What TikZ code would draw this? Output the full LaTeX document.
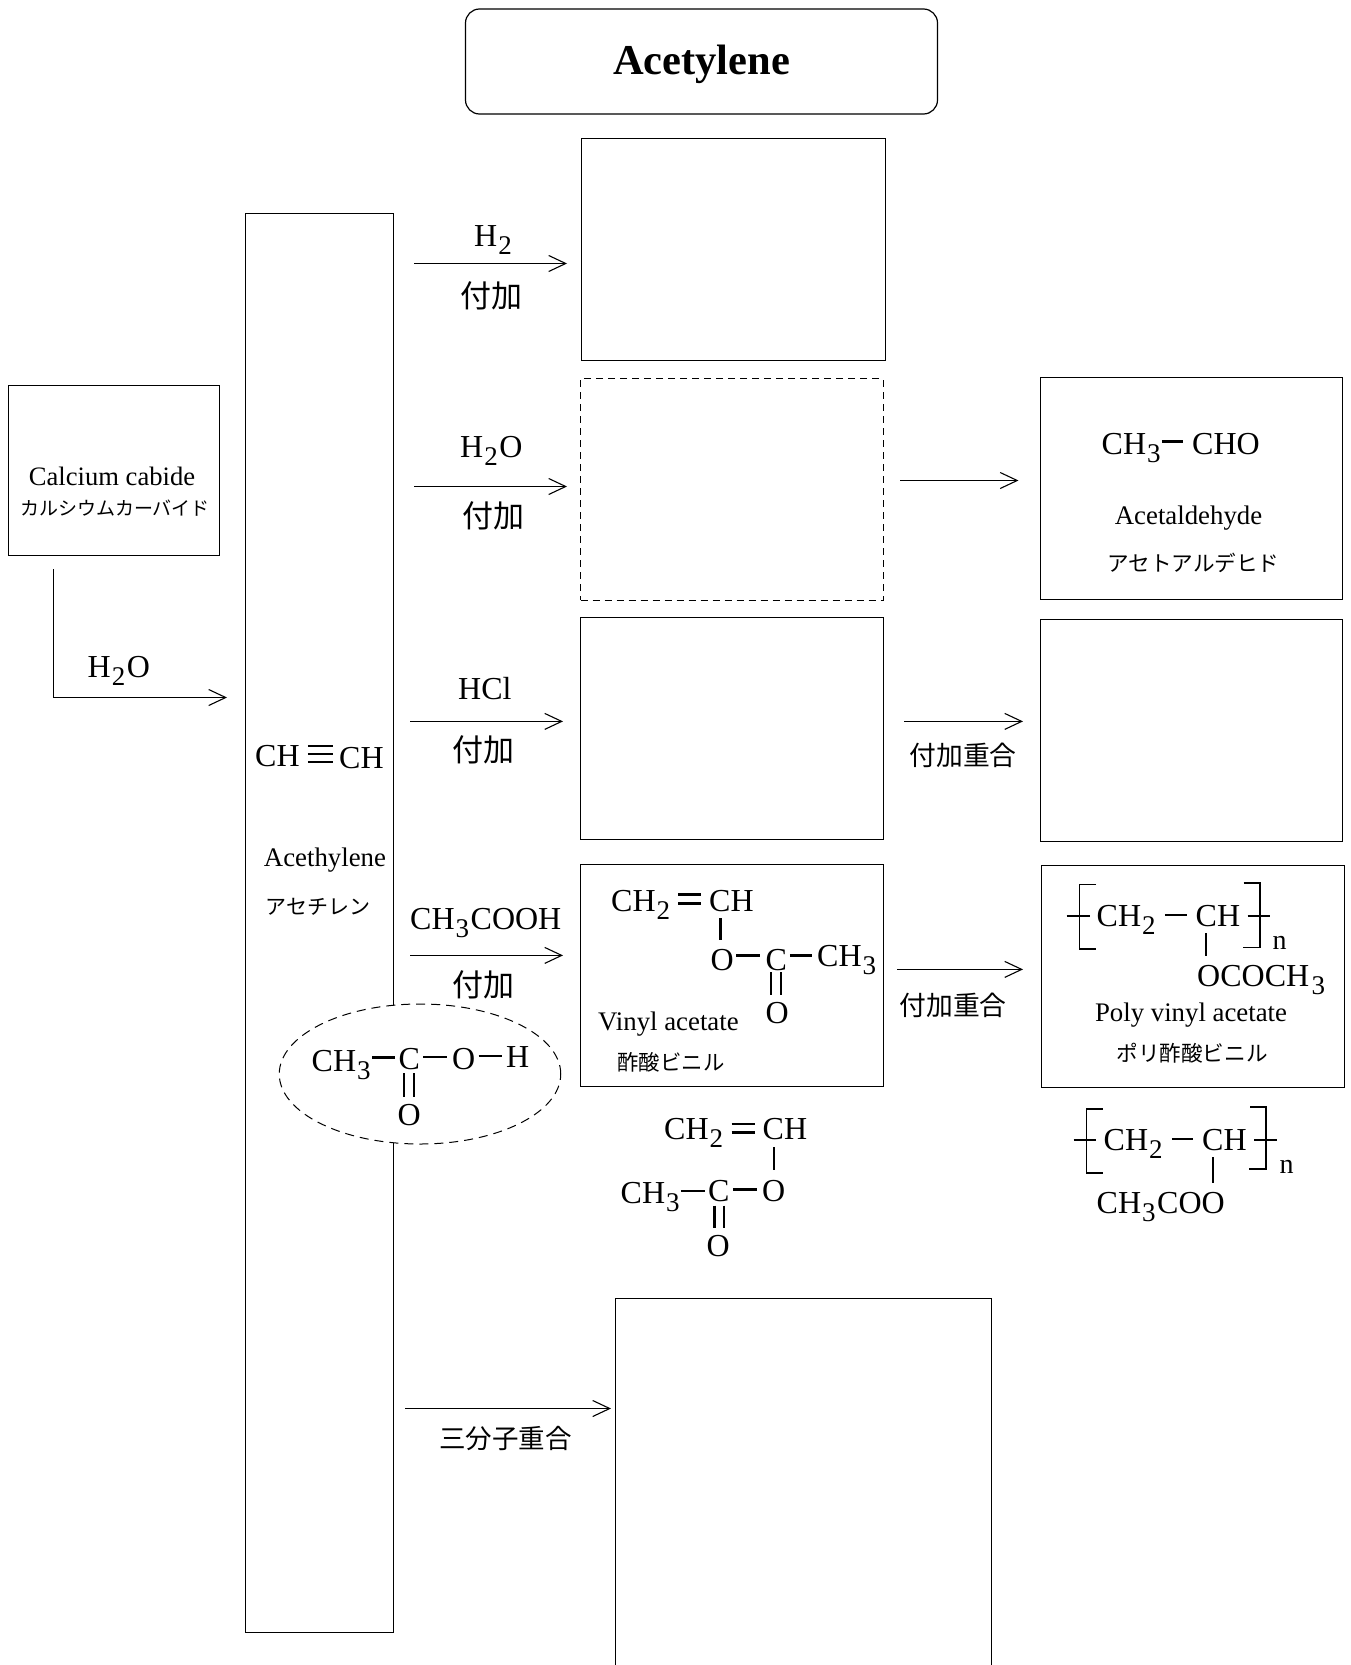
\documentclass[tikz,border=0pt]{standalone}
\usepackage{fontspec}
\setmainfont{Liberation Serif}
\newfontfamily\jafont{Noto Sans CJK JP}
\usetikzlibrary{arrows.meta,shapes.geometric}
\newcommand{\fz}[1]{\fontsize{#1}{#1}\selectfont}
\newcommand{\sbs}[1]{\hspace{1pt}\raisebox{-8pt}{\fz{27}#1}\hspace{1.5pt}}
\colorlet{ln}{black}
\tikzset{
  x=1pt,y=-1pt,
  box/.style={draw=ln,line width=1.2pt,inner sep=0pt,anchor=north west,fill=white},
  dbox/.style={box,dash pattern=on 7pt off 5pt,line width=1pt},
  arr/.style={draw=ln,line width=1.1pt,-{Straight Barb[length=17pt,width=16pt,line width=1.1pt]}},
  atom/.style={anchor=base west,inner sep=0pt,font=\fz{32},text height=21pt,text depth=0pt},
  lab/.style={anchor=base,inner sep=0pt,font=\fz{26.8}},
  jp/.style={inner sep=0pt,font=\jafont\fz{#1}},
  bond/.style={draw=black,line width=2.7pt},
  dbond/.style={draw=black,line width=2.1pt},
  brk/.style={draw=black,line width=1.2pt},
}
% horizontal bond from node #1 to node #2; #3 = vertical offset from #1.east; #4,#5 = gaps
\newcommand{\hb}[5]{\draw[bond] ([xshift=#4,yshift=#3]#1.east) -- ([xshift=-#5,yshift=#3]#1.east -| #2.west);}
% vertical bond from node #1 to node #2 at x offset #3 from #1.south west; gaps #4, #5
\newcommand{\vb}[5]{\draw[bond] ([xshift=#3,yshift=-#4]#1.south west) -- ([xshift=#3,yshift=#5]#1.south west |- #2.north);}
\newcommand{\db}[5]{\draw[dbond] ([xshift=#3,yshift=-#4]#1.south west) -- ([xshift=#3,yshift=#5]#1.south west |- #2.north);}
\begin{document}
\begin{tikzpicture}
\path[use as bounding box,clip] (0,0) rectangle (1351,1665);
\fill[white] (0,0) rectangle (1351,1665);

% title
\node[box,anchor=center,rounded corners=14pt,minimum width=472pt,minimum height=105pt,font=\bfseries\fz{42.5},text height=25pt,text depth=0pt] (title) at (701.5,61.5) {Acetylene};

% boxes
\node[box,minimum width=303.5pt,minimum height=222pt] (bh2) at (581,138) {};
\node[dbox,minimum width=302.5pt,minimum height=221.5pt] (bwater) at (580,378) {};
\node[box,minimum width=302.5pt,minimum height=222pt] (bald) at (1039.5,377) {};
\node[box,minimum width=302.5pt,minimum height=222pt] (bhcl) at (580,617) {};
\node[box,minimum width=302.5pt,minimum height=222pt] (bpvc) at (1039.5,619) {};
\node[box,minimum width=302.5pt,minimum height=222pt] (bva) at (580,864) {};
\node[box,minimum width=302.5pt,minimum height=222pt] (bpva) at (1041,865) {};
\node[box,minimum width=376pt,minimum height=420pt] (bbenz) at (615,1297.5) {};
\node[box,minimum width=210.5pt,minimum height=170pt] (bcac) at (8,385) {};
\node[box,minimum width=147.5pt,minimum height=1419.5pt] (bcol) at (245,212.5) {};

% calcium carbide
\node[lab,font=\fz{26.6}] (tcac) at (112,485) {Calcium cabide};
\node[jp=19] (jcac) at (115,508) {カルシウムカーバイド};
\coordinate (w1) at (53.5,569);
\coordinate (w2) at (53.5,697.5);
\coordinate (w3) at (227,697.5);
\draw[arr] (w1) -- (w2) -- (w3);
\node[atom] (lwater) at (87.5,677) {H\sbs{2}O};

% acetylene
\node[atom] (ac1) at (255,766) {CH};
\node[atom] (ac2) at (339,768) {CH};
\draw[black,line width=2.5pt] ([xshift=8pt,yshift=20pt]ac1.south east) -- ([xshift=33pt,yshift=20pt]ac1.south east);
\draw[black,line width=2.5pt] ([xshift=8pt,yshift=12pt]ac1.south east) -- ([xshift=33pt,yshift=12pt]ac1.south east);
\draw[black,line width=2.5pt] ([xshift=8pt,yshift=4pt]ac1.south east) -- ([xshift=33pt,yshift=4pt]ac1.south east);
\node[lab] (tac) at (325,866) {Acethylene};
\node[jp=21] (jac) at (318,907) {アセチレン};

% reagent arrows
\coordinate (a1s) at (414,263.5); \coordinate (a1e) at (567,263.5);
\draw[arr] (a1s) -- (a1e);
\node[atom] (r1) at (474,246) {H\sbs{2}};
\node[jp=31] (j1) at (491,296) {付加};

\coordinate (a2s) at (414,486.5); \coordinate (a2e) at (567,486.5);
\draw[arr] (a2s) -- (a2e);
\node[atom] (r2) at (460,457) {H\sbs{2}O};
\node[jp=31] (j2) at (493,516) {付加};

\coordinate (a3s) at (900,480.5); \coordinate (a3e) at (1018.5,480.5);
\draw[arr] (a3s) -- (a3e);

\coordinate (a4s) at (410,721.4); \coordinate (a4e) at (563,721.4);
\draw[arr] (a4s) -- (a4e);
\node[atom] (r4) at (458,699) {HCl};
\node[jp=31] (j4) at (483,750) {付加};

\coordinate (a5s) at (904,721.4); \coordinate (a5e) at (1023,721.4);
\draw[arr] (a5s) -- (a5e);
\node[jp=26.8] (j5) at (963,755) {付加重合};

\coordinate (a6s) at (410,955.4); \coordinate (a6e) at (563,955.4);
\draw[arr] (a6s) -- (a6e);
\node[atom] (r6) at (410,929) {CH\sbs{3}COOH};
\node[jp=31] (j6) at (483,985) {付加};

\coordinate (a7s) at (897,969.4); \coordinate (a7e) at (1023,969.4);
\draw[arr] (a7s) -- (a7e);
\node[jp=26.8] (j7) at (953,1005) {付加重合};

\coordinate (a8s) at (405,1408.5); \coordinate (a8e) at (611,1408.5);
\draw[arr] (a8s) -- (a8e);
\node[jp=26.5] (j8) at (505.5,1439) {三分子重合};

% acetaldehyde
\node[atom] (ald1) at (1101.5,454) {CH\sbs{3}};
\node[atom] (ald2) at (1192,454) {CHO};
\draw[bond] ([xshift=1pt,yshift=2pt]ald1.east) -- ([xshift=-9pt,yshift=2pt]ald1.east -| ald2.west);
\node[lab] (tald) at (1188.5,524) {Acetaldehyde};
\node[jp=21.6] (jald) at (1193.5,562.5) {アセトアルデヒド};

% vinyl acetate in box
\node[atom] (v1) at (611,911) {CH\sbs{2}};
\node[atom] (v2) at (709,911) {CH};
\node[atom] (v3) at (710.5,970) {O};
\node[atom] (v4) at (765.5,970) {C};
\node[atom] (v5) at (817,966) {CH\sbs{3}};
\node[atom] (v6) at (765.5,1023.5) {O};
\draw[bond] (678,894.5) coordinate (v1a) -- (701,894.5) coordinate (v1b);
\draw[bond] (678,903.5) coordinate (v1c) -- (701,903.5) coordinate (v1d);
\vb{v2}{v3}{11.5pt}{7pt}{9pt}
\hb{v3}{v4}{4pt}{2pt}{6pt}
\hb{v4}{v5}{4pt}{2.5pt}{5pt}
\db{v4}{v6}{5.5pt}{2pt}{7pt}
\db{v4}{v6}{15.5pt}{2pt}{7pt}
\node[lab,anchor=base west] (tva) at (598,1030) {Vinyl acetate};
\node[jp=21.4] (jva) at (671,1062.5) {酢酸ビニル};

% vinyl acetate below
\node[atom] (u1) at (664,1139.5) {CH\sbs{2}};
\node[atom] (u2) at (762.5,1139.5) {CH};
\node[atom] (u3) at (762,1201.5) {O};
\node[atom] (u4) at (708,1201.5) {C};
\node[atom] (u5) at (620.5,1203.5) {CH\sbs{3}};
\node[atom] (u6) at (706.5,1256.5) {O};
\draw[bond] (731.5,1124) coordinate (u1a) -- (754.5,1124) coordinate (u1b);
\draw[bond] (731.5,1132.5) coordinate (u1c) -- (754.5,1132.5) coordinate (u1d);
\vb{u2}{u3}{11.5pt}{7.5pt}{10pt}
\hb{u4}{u3}{1.5pt}{3pt}{5pt}
\hb{u5}{u4}{2pt}{1pt}{3.5pt}
\db{u4}{u6}{6.5pt}{4pt}{7pt}
\db{u4}{u6}{16pt}{4pt}{7pt}

% acetic acid ellipse
\node[draw=ln,fill=white,ellipse,dash pattern=on 9pt off 6pt,line width=1pt,inner sep=0pt,minimum width=281.5pt,minimum height=140pt] (ell) at (420,1074) {};
\node[atom] (e1) at (311.5,1071) {CH\sbs{3}};
\node[atom] (e2) at (398.5,1069) {C};
\node[atom] (e3) at (452,1069) {O};
\node[atom] (e4) at (506,1067) {H};
\node[atom] (e5) at (397.5,1125) {O};
\hb{e1}{e2}{3pt}{1.5pt}{4pt}
\hb{e2}{e3}{1.5pt}{3pt}{5pt}
\hb{e3}{e4}{2.5pt}{3pt}{4pt}
\db{e2}{e5}{5.5pt}{4pt}{7pt}
\db{e2}{e5}{15.5pt}{4pt}{7pt}

% poly vinyl acetate in box
\node[atom] (p1) at (1096.5,926) {CH\sbs{2}};
\node[atom] (p2) at (1195.5,926) {CH};
\node[atom] (p3) at (1197,986) {OCOCH\hspace{1.5pt}\sbs{3}};
\node[atom,font=\fz{28}] (pn) at (1272.5,949) {n};
\coordinate (p4a) at (1066.5,916); \coordinate (p4b) at (1090,916);
\coordinate (p5a) at (1247.5,916); \coordinate (p5b) at (1270,916);
\draw[bond] (p4a) -- (p4b);
\draw[bond] (p5a) -- (p5b);
\draw[bond] ([xshift=9pt,yshift=0.5pt]p1.east) -- ([xshift=-9pt,yshift=0.5pt]p1.east -| p2.west);
\vb{p2}{p3}{10.5pt}{7pt}{9pt}
\draw[brk] (1096,884.5) -- (1079.5,884.5) -- (1079.5,949) -- (1096,949);
\draw[brk] (1243.5,883) -- (1260,883) -- (1260,947.5) -- (1243,947.5);
\node[lab] (tpva) at (1191,1021.5) {Poly vinyl acetate};
\node[jp=21.6] (jpva) at (1192,1053.5) {ポリ酢酸ビニル};

% poly vinyl acetate below
\node[atom] (q1) at (1103.5,1150) {CH\sbs{2}};
\node[atom] (q2) at (1202,1150) {CH};
\node[atom] (q3) at (1096.5,1213.5) {CH\sbs{3}COO};
\node[atom,font=\fz{28}] (qn) at (1279.5,1173) {n};
\coordinate (q4a) at (1073.5,1140); \coordinate (q4b) at (1096,1140);
\coordinate (q5a) at (1254,1140); \coordinate (q5b) at (1276.5,1140);
\draw[bond] (q4a) -- (q4b);
\draw[bond] (q5a) -- (q5b);
\draw[bond] ([xshift=9pt,yshift=0.5pt]q1.east) -- ([xshift=-9pt,yshift=0.5pt]q1.east -| q2.west);
\vb{q2}{q3}{11pt}{7pt}{9pt}
\draw[brk] (1102.5,1109) -- (1086.5,1109) -- (1086.5,1173) -- (1102.5,1173);
\draw[brk] (1250,1107) -- (1266,1107) -- (1266,1169) -- (1249,1169);
\end{tikzpicture}
\end{document}
